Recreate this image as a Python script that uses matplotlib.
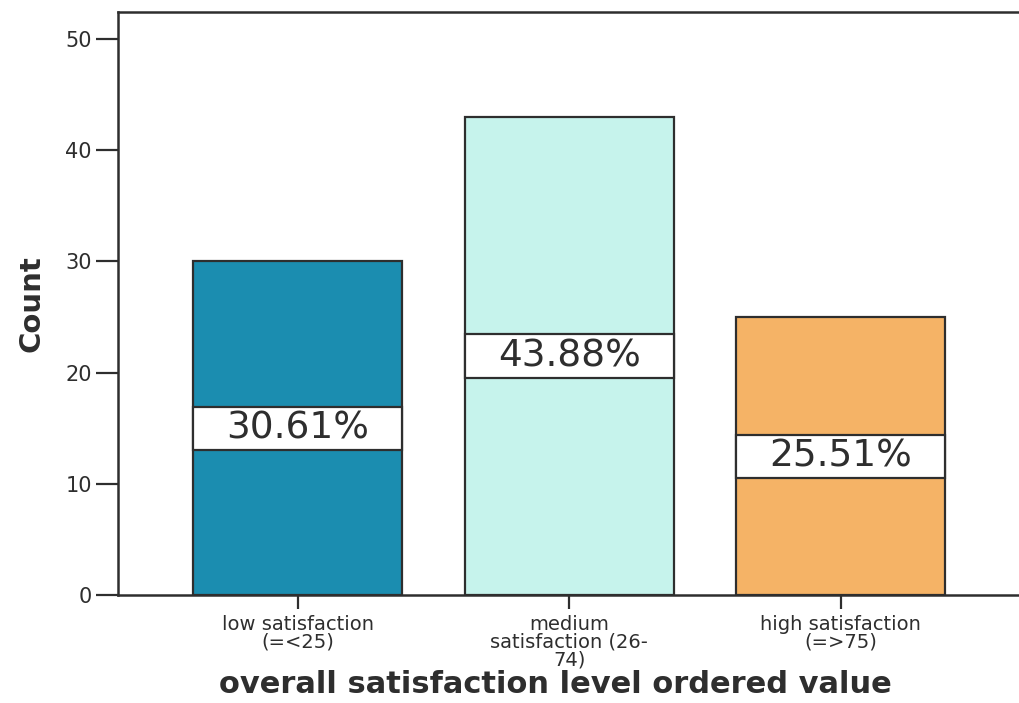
import matplotlib
matplotlib.use("Agg")
import matplotlib.pyplot as plt
from matplotlib import font_manager

# data
categories = ["low satisfaction\n(=<25)",
              "medium\nsatisfaction (26-\n74)",
              "high satisfaction\n(=>75)"]
counts = [30, 43, 25]
percent_labels = ["30.61%", "43.88%", "25.51%"]
bar_colors = ["#1b8db0", "#c6f3ec", "#f5b366"]

ink = "#2e2e2e"

# narrow bold font for "Count" if we have it
names = {f.name for f in font_manager.fontManager.ttflist}
narrow = "Liberation Sans Narrow" if "Liberation Sans Narrow" in names else "DejaVu Sans"

fig = plt.figure(figsize=(10.2, 7.03), dpi=100)
ax = fig.add_axes([0.116, 0.153, 0.884, 0.830])

x = list(range(len(counts)))
ax.bar(x, counts, width=0.77, color=bar_colors, edgecolor=ink, linewidth=1.6, zorder=2)

# white percentage boxes centred at half of each bar
box_h = 3.9
for xi, c, lab in zip(x, counts, percent_labels):
    ax.bar(xi, box_h, bottom=c / 2 - box_h / 2, width=0.77, color="white",
           edgecolor=ink, linewidth=1.6, zorder=3)
    ax.text(xi, c / 2, lab, ha="center", va="center", fontsize=27,
            family="DejaVu Sans", color=ink, zorder=4)

ax.set_xlim(-0.66, 2.66)
ax.set_ylim(0, 52.4)
ax.set_yticks([0, 10, 20, 30, 40, 50])
ax.set_xticks(x)
ax.set_xticklabels(categories, fontsize=14, family="DejaVu Sans", color=ink,
                   linespacing=0.92)
ax.tick_params(axis="y", length=16, width=1.6, color=ink, labelsize=15,
               labelcolor=ink, pad=3)
ax.tick_params(axis="x", length=10, width=1.6, color=ink, pad=4)

for s in ax.spines.values():
    s.set_linewidth(1.8)
    s.set_color(ink)

ax.set_xlabel("overall satisfaction level ordered value", fontsize=22,
              fontweight="bold", family="DejaVu Sans", color=ink)
ax.xaxis.set_label_coords(0.485, -0.128)
ax.set_ylabel("Count", fontsize=21, fontweight="bold", family=narrow,
              color=ink, labelpad=14)

fig.savefig("out.png", dpi=100)
